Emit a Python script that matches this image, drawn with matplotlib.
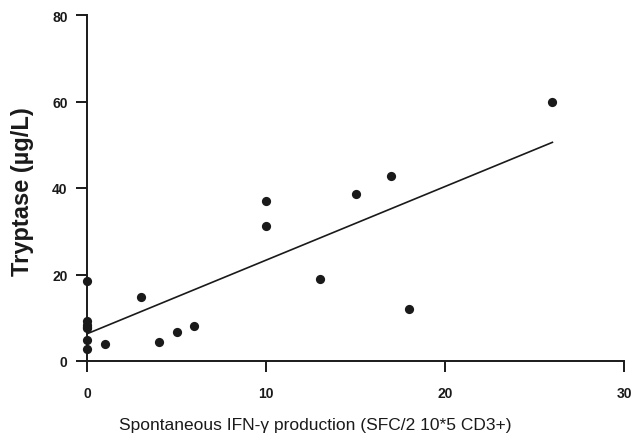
import numpy as np
import matplotlib
matplotlib.use("Agg")
import matplotlib.pyplot as plt

plt.rcParams['font.family'] = ['Liberation Sans', 'DejaVu Sans']

# Data
ifn_x = [0, 0, 0, 0, 0, 0, 0, 1, 3, 4, 5, 6, 10, 10, 13, 15, 17, 18, 26]
tryptase_y = [18.5, 9.2, 8.4, 7.6, 4.8, 2.7, 7.8, 3.9, 14.8, 4.4, 6.6, 8.0, 31.3, 37.1, 19.0, 38.5, 42.8, 12.0, 60.0]
x_ticks = [0, 10, 20, 30]
y_ticks = [0, 20, 40, 60, 80]
x_label = "Spontaneous IFN-\u03b3 production (SFC/2 10*5 CD3+)"
y_label = "Tryptase (\u00b5g/L)"

x = np.array(ifn_x, dtype=float)
y = np.array(tryptase_y, dtype=float)
slope, intercept = np.polyfit(x, y, 1)
xfit = np.array([x.min(), x.max()])
yfit = slope * xfit + intercept

ink = '#1a1a1a'
fig = plt.figure(figsize=(6.33, 4.35), dpi=100)
ax = fig.add_axes([87/633, 1 - 362/435, (624 - 87)/633, (362 - 16)/435])

ax.plot(xfit, yfit, color=ink, lw=1.2, zorder=2)
ax.scatter(x, y, s=44, color=ink, zorder=3, clip_on=False, linewidths=0)

ax.set_xlim(0, 30)
ax.set_ylim(0, 80)
ax.set_xticks(x_ticks)
ax.set_yticks(y_ticks)
for s in ['top', 'right']:
    ax.spines[s].set_visible(False)
for s in ['left', 'bottom']:
    ax.spines[s].set_linewidth(1.4)
    ax.spines[s].set_color(ink)
ax.tick_params(axis='both', direction='out', length=8, width=1.4, color=ink)
ax.tick_params(axis='x', pad=10)
ax.tick_params(axis='y', pad=6)
for lab in ax.get_xticklabels() + ax.get_yticklabels():
    lab.set_fontweight('bold')
    lab.set_fontsize(10)
    lab.set_color(ink)

fig.text(315/633, 1 - 426/435, x_label, ha='center', va='center', fontsize=12.5, color=ink)
fig.text(23/633, 1 - 192/435, y_label, ha='center', va='center', rotation=90,
         fontsize=17, fontweight='bold', color=ink)

fig.savefig("out.png", dpi=100)
